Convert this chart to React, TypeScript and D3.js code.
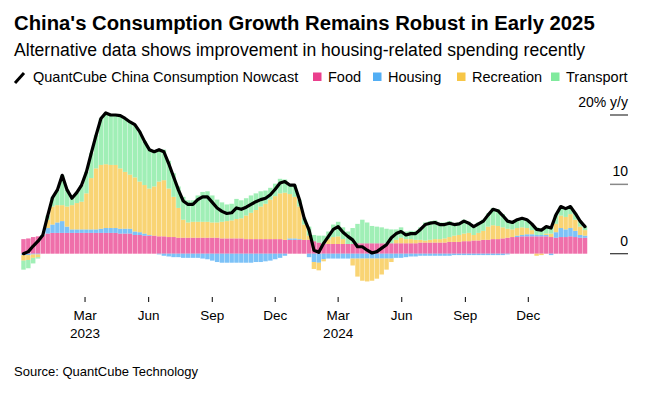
import * as d3 from "d3"

// weekly readings, first week starting 2 Dec 2022
const startDate = new Date(2022, 11, 2)

const food = [
  2.1, 2.2, 2.4, 2.5, 2.6, 2.9, 3.0, 3.0, 3.0, 3.0,
  3.0, 3.0, 3.0, 3.0, 3.0, 3.0, 3.0, 3.0, 3.0, 3.0,
  2.9, 2.9, 2.9, 2.7, 2.7, 2.6, 2.6, 2.6, 2.5, 2.5,
  2.4, 2.4, 2.3, 2.3, 2.3, 2.3, 2.3, 2.3, 2.3, 2.3,
  2.3, 2.2, 2.2, 2.2, 2.2, 2.2, 2.1, 2.1, 2.1, 2.1,
  2.1, 2.1, 2.1, 2.1, 2.0, 2.0, 2.0, 2.0, 2.0, 2.0,
  1.8, 1.6, 1.4, 1.4, 1.4, 1.4, 1.4, 1.4, 1.4, 1.5,
  1.5, 1.5, 1.5, 1.5, 1.5, 1.5, 1.5, 1.5, 1.5, 1.5,
  1.5, 1.5, 1.6, 1.6, 1.6, 1.6, 1.6, 1.6, 1.7, 1.7,
  1.7, 1.8, 1.8, 1.9, 1.9, 2.0, 2.0, 2.1, 2.1, 2.2,
  2.3, 2.4, 2.4, 2.5, 2.5, 2.5, 2.5, 2.5, 2.5, 2.4,
  2.3, 2.4, 2.4, 2.5, 2.4, 2.3, 2.3,
]
const housing = [
  -0.2, -0.2, -0.1, -0.1, 0.1, 0.8, 1.2, 1.5, 1.7, 0.9,
  0.5, 0.5, 0.5, 0.5, 0.5, 0.5, 0.6, 0.7, 0.7, 0.7,
  0.7, 0.7, 0.7, 0.5, 0.4, 0.3, 0.1, 0.0, -0.1, -0.3,
  -0.4, -0.5, -0.5, -0.6, -0.6, -0.6, -0.6, -0.7, -0.8, -1.0,
  -1.2, -1.3, -1.3, -1.3, -1.3, -1.3, -1.3, -1.3, -1.2, -1.2,
  -1.1, -1.0, -0.8, -0.6, -0.3, 0.2, 0.2, 0.1, 0.0, -0.5,
  -1.2, -1.3, -0.8, -0.7, -0.7, -0.7, -0.7, -0.7, -0.7, -0.7,
  -0.7, -0.7, -0.7, -0.7, -0.7, -0.7, -0.7, -0.6, -0.6, -0.5,
  -0.4, -0.4, -0.3, -0.3, -0.3, -0.3, -0.3, -0.3, -0.3, -0.2,
  -0.2, -0.2, -0.2, -0.2, -0.2, -0.2, -0.2, -0.2, -0.2, -0.2,
  -0.1, 0.0, 0.2, 0.2, 0.3, 0.3, 0.2, 0.2, 0.2, -0.2,
  0.8, 1.3, 1.1, 1.2, 0.9, 0.4, 0.3,
]
const recreation = [
  -0.8, -0.7, -0.5, -0.4, 0.0, 1.2, 2.6, 2.5, 2.3, 2.9,
  3.5, 3.8, 4.0, 5.2, 7.4, 8.8, 9.2, 9.2, 9.1, 9.1,
  8.7, 8.2, 7.8, 7.8, 7.3, 7.0, 6.7, 7.1, 7.9, 8.1,
  7.0, 5.8, 4.3, 2.6, 2.2, 2.3, 2.3, 2.3, 2.3, 2.2,
  2.2, 2.4, 2.5, 2.6, 2.8, 2.9, 3.4, 3.8, 4.2, 4.7,
  5.1, 5.7, 6.2, 6.6, 6.8, 6.4, 6.0, 4.7, 2.2, 0.6,
  -1.0, -1.1, -0.3, 0.7, 1.0, 1.1, 0.7, 0.0, -1.0, -2.6,
  -3.2, -3.3, -3.2, -2.9, -2.3, -1.6, -0.5, 0.5, 0.8, 0.6,
  0.6, 0.5, 0.4, 0.3, 0.4, 0.5, 0.5, 0.6, 0.7, 0.9,
  1.0, 1.1, 1.2, 0.8, 1.1, 1.3, 1.9, 2.0, 1.9, 1.6,
  1.3, 1.1, 1.1, 1.1, 0.9, 0.6, -0.3, -0.2, 0.2, 0.5,
  1.2, 1.8, 1.8, 2.0, 1.6, 1.2, 0.8,
]
const transport = [
  -1.3, -1.2, -0.8, -0.2, 0.0, 0.6, 1.3, 2.2, 4.3, 2.4,
  1.0, 1.5, 2.4, 3.1, 3.6, 4.8, 6.7, 7.4, 7.2, 7.2,
  7.6, 7.7, 7.6, 7.6, 7.2, 6.3, 5.6, 5.0, 4.6, 4.4,
  4.0, 3.4, 3.1, 3.3, 3.2, 3.1, 3.8, 4.3, 4.4, 3.9,
  3.3, 2.8, 2.4, 2.4, 2.9, 2.6, 2.5, 2.5, 2.4, 2.2,
  1.9, 1.7, 1.8, 2.1, 1.9, 1.3, 1.7, 1.0, 0.9, 1.3,
  0.9, 1.0, 1.2, 1.1, 1.8, 2.1, 1.7, 1.8, 2.3, 2.8,
  3.4, 3.0, 2.5, 2.4, 2.3, 2.1, 2.0, 1.5, 1.5, 1.1,
  1.2, 1.3, 1.8, 2.6, 2.7, 2.7, 2.4, 2.3, 2.3, 1.8,
  1.8, 2.0, 1.6, 1.4, 1.5, 1.6, 1.9, 2.5, 2.4, 1.9,
  1.2, 1.0, 1.2, 1.3, 1.2, 0.9, 1.1, 0.9, 1.0, 1.0,
  1.3, 1.3, 1.2, 1.1, 0.9, 0.8, 0.5,
]
const nowcast = [
  0.0, 0.3, 1.1, 1.8, 2.7, 5.5, 8.1, 9.2, 11.3, 9.2,
  8.0, 8.8, 9.9, 11.8, 14.5, 17.1, 19.5, 20.3, 20.0, 20.0,
  19.9, 19.5, 19.0, 18.6, 17.6, 16.2, 15.0, 14.7, 15.0, 14.7,
  13.0, 11.1, 9.2, 7.6, 7.1, 7.1, 7.8, 8.2, 8.2, 7.4,
  6.6, 6.1, 5.8, 5.9, 6.6, 6.4, 6.7, 7.1, 7.5, 7.8,
  8.0, 8.5, 9.3, 10.2, 10.4, 9.9, 9.9, 7.8, 5.1, 3.4,
  0.5, 0.2, 1.5, 2.5, 3.5, 3.9, 3.1, 2.5, 2.0, 1.0,
  1.0, 0.5, 0.1, 0.3, 0.8, 1.3, 2.3, 2.9, 3.2, 2.7,
  2.9, 2.9, 3.5, 4.2, 4.4, 4.5, 4.2, 4.2, 4.4, 4.2,
  4.3, 4.7, 4.4, 3.9, 4.3, 4.7, 5.6, 6.4, 6.2, 5.5,
  4.7, 4.5, 4.9, 5.1, 4.9, 4.3, 3.5, 3.4, 3.9, 3.7,
  5.6, 6.8, 6.5, 6.8, 5.8, 4.7, 3.9,
]

const seriesKeys = ["food", "housing", "recreation", "transport"]
const seriesLabels = ["Food", "Housing", "Recreation", "Transport"]
const seriesColors = ["#ea3f8d", "#52aef4", "#f7c646", "#80ea9d"]
const lineLabel = "QuantCube China Consumption Nowcast"
const yTicks = [0, 10, 20]

const dates = food.map((_, i) => d3.timeDay.offset(startDate, 7 * i))
const rows = dates.map((date, i) => ({
  date,
  food: food[i],
  housing: housing[i],
  recreation: recreation[i],
  transport: transport[i],
}))

const font = "'Liberation Sans', Arial, Helvetica, sans-serif"

export default function App() {
  const width = 664
  const height = 394

  const x = d3
    .scaleTime()
    .domain([dates[0], dates[dates.length - 1]])
    .range([23.5, 585])
  const y = d3.scaleLinear().domain([0, 20]).range([253.7, 115])

  const layers = d3
    .stack<any>()
    .keys(seriesKeys)
    .offset(d3.stackOffsetDiverging)(rows)

  const step = x(dates[1]) - x(dates[0])
  const bw = step * 0.92

  const linePath = d3
    .line<number>()
    .x((_, i) => x(dates[i]))
    .y((d) => y(d))(nowcast)

  const xTicks = x.ticks(d3.timeMonth.filter((d) => d.getMonth() % 3 === 2))

  // legend positions
  const legendX = [313, 373, 457, 551]

  return (
    <svg
      width={width}
      height={height}
      style={{ position: "absolute", left: 0, top: 0, background: "#fff" }}
      fontFamily={font}
    >
      <text x={14} y={30} fontSize={20.3} fontWeight="bold" fill="#000">
        China's Consumption Growth Remains Robust in Early 2025
      </text>
      <text x={14} y={56} fontSize={17.6} fill="#000">
        Alternative data shows improvement in housing-related spending recently
      </text>

      {/* legend */}
      <g>
        <line x1={15} y1={83} x2={24} y2={73} stroke="#000" strokeWidth={3} />
        <text x={33} y={81.5} fontSize={14.5} fill="#000">
          {lineLabel}
        </text>
        {seriesLabels.map((s, i) => (
          <g key={s}>
            <rect x={legendX[i]} y={72.5} width={8.5} height={8.5} fill={seriesColors[i]} />
            <text x={legendX[i] + 15} y={81.5} fontSize={14.5} fill="#000">
              {s}
            </text>
          </g>
        ))}
      </g>

      {/* stacked bars */}
      {layers.map((layer, k) => (
        <g key={layer.key} fill={seriesColors[k]} fillOpacity={0.75}>
          {layer.map((d, i) => {
            const y0 = y(d[0])
            const y1 = y(d[1])
            return (
              <rect
                key={i}
                x={x(dates[i]) - bw / 2}
                y={Math.min(y0, y1)}
                width={bw}
                height={Math.abs(y0 - y1)}
              />
            )
          })}
        </g>
      ))}

      {/* nowcast line */}
      <path
        d={linePath || ""}
        fill="none"
        stroke="#000"
        strokeWidth={3.2}
        strokeLinejoin="round"
        strokeLinecap="round"
      />

      {/* y axis on the right */}
      {yTicks.map((t) => (
        <g key={t}>
          <line
            x1={610}
            x2={628}
            y1={y(t)}
            y2={y(t)}
            stroke={t === 10 ? "#888" : "#333"}
            strokeWidth={t === 10 ? 1.5 : 1.2}
          />
          <text x={628} y={y(t) - 8} textAnchor="end" fontSize={14} fill="#000">
            {t === 20 ? "20% y/y" : t}
          </text>
        </g>
      ))}

      {/* x axis */}
      {xTicks.map((d) => (
        <g key={+d} transform={`translate(${x(d)},0)`}>
          <line y1={297} y2={302} stroke="#000" strokeWidth={1} />
          <text y={320} textAnchor="middle" fontSize={13.5} fill="#000">
            {d3.timeFormat("%b")(d)}
          </text>
          {d.getMonth() === 2 && (
            <text y={338} textAnchor="middle" fontSize={13.5} fill="#000">
              {d3.timeFormat("%Y")(d)}
            </text>
          )}
        </g>
      ))}

      <text x={14} y={376} fontSize={13} fill="#000">
        Source: QuantCube Technology
      </text>
    </svg>
  )
}
